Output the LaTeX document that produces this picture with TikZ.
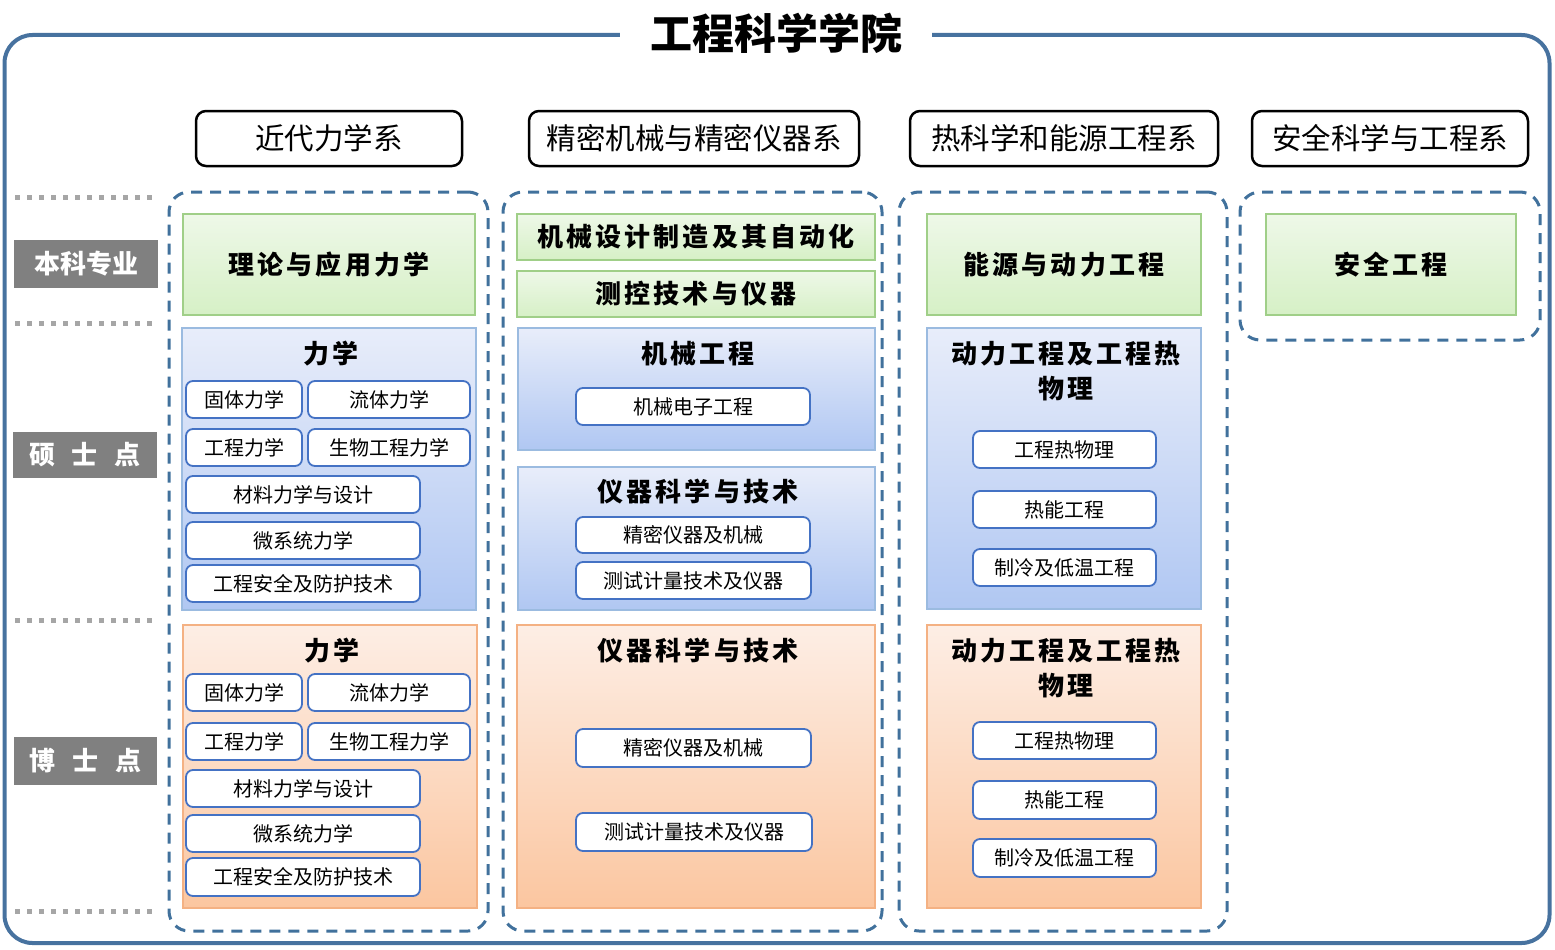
\documentclass[tikz,border=0pt]{standalone}
\usepackage{fontspec}
\setmainfont{Noto Sans CJK SC}
\newfontfamily\kai[LetterSpace=12]{Noto Sans CJK SC}
\definecolor{frameblue}{RGB}{71,114,159}
\definecolor{dashblue}{RGB}{65,113,156}
\definecolor{labgray}{RGB}{128,128,128}
\definecolor{dotgray}{RGB}{166,166,166}
\definecolor{gtop}{RGB}{238,248,232}
\definecolor{gbot}{RGB}{214,240,198}
\definecolor{gline}{RGB}{160,207,136}
\definecolor{btop}{RGB}{232,237,250}
\definecolor{bbot}{RGB}{176,199,242}
\definecolor{bline}{RGB}{155,187,224}
\definecolor{otop}{RGB}{253,238,229}
\definecolor{obot}{RGB}{251,198,160}
\definecolor{oline}{RGB}{244,177,131}
\definecolor{subline}{RGB}{68,114,196}
\newcommand\mybox[7]{\node[#1,minimum width={(#5)-(#3)},minimum height={(#6)-(#4)}] (#2) at ({((#3)+(#5))/2},{((#4)+(#6))/2}) {#7};}
\begin{document}
\begin{tikzpicture}[x=1pt,y=-1pt,
  frame/.style={draw=frameblue,line width=4pt,rounded corners=28pt},
  dept/.style={draw=black,line width=2.5pt,rounded corners=10pt,fill=white,inner sep=0pt,font=\fontsize{29.5}{32}\selectfont},
  colgrp/.style={draw=dashblue,line width=3pt,dash pattern=on 11pt off 8pt,rounded corners=20pt,inner sep=0pt},
  lab/.style={fill=labgray,text=white,inner sep=0pt,font=\bfseries\fontsize{26}{30}\selectfont},
  dotline/.style={draw=dotgray,line width=5pt,dash pattern=on 5pt off 7pt},
  ug/.style={draw=gline,line width=2.5pt,top color=gtop,bottom color=gbot,inner sep=0pt,font=\kai\bfseries\fontsize{26}{30}\selectfont},
  ms/.style={draw=bline,line width=2.5pt,top color=btop,bottom color=bbot,inner sep=0pt},
  phd/.style={draw=oline,line width=2.5pt,top color=otop,bottom color=obot,inner sep=0pt},
  ttl/.style={inner sep=0pt,align=center,font=\kai\bfseries\fontsize{26}{35}\selectfont},
  sub/.style={draw=subline,line width=1.8pt,fill=white,rounded corners=7pt,inner sep=0pt,font=\fontsize{20}{24}\selectfont}]
\useasboundingbox (0,0) rectangle (1555,950);
% outer frame and title
\draw[frame] (4.5,35) rectangle (1549.5,943);
\node[fill=white,minimum width=312,minimum height=44,inner sep=0pt,font=\bfseries\fontsize{42}{46}\selectfont] (title) at (776,33) {工程科学学院};
% departments
\mybox{dept}{d1}{196}{111}{462}{166}{近代力学系}
\mybox{dept}{d2}{529}{111}{859}{166}{精密机械与精密仪器系}
\mybox{dept}{d3}{910}{111}{1218}{166}{热科学和能源工程系}
\mybox{dept}{d4}{1252}{111}{1528}{166}{安全科学与工程系}
% dashed column groups
\mybox{colgrp}{c1}{169}{192}{488}{931}{}
\mybox{colgrp}{c2}{503}{192}{882}{931}{}
\mybox{colgrp}{c3}{899}{192}{1227}{931}{}
\mybox{colgrp}{c4}{1240}{192}{1540}{340}{}
% row labels and dotted separators
\mybox{lab}{l1}{14}{240}{158}{288}{本科专业}
\mybox{lab}{l2}{13}{432}{157}{478}{硕\hspace{17pt}士\hspace{17pt}点}
\mybox{lab}{l3}{14}{737}{157}{785}{博\hspace{17pt}士\hspace{17pt}点}
\draw[dotline] (15,197) -- (152,197);
\draw[dotline] (15,323) -- (152,323);
\draw[dotline] (15,620) -- (152,620);
\draw[dotline] (15,911) -- (152,911);
% undergraduate majors
\mybox{ug}{g1}{183}{214}{475}{315}{理论与应用力学}
\mybox{ug}{g2a}{517}{214}{875}{260}{机械设计制造及其自动化}
\mybox{ug}{g2b}{517}{271}{875}{317}{测控技术与仪器}
\mybox{ug}{g3}{927}{214}{1201}{315}{能源与动力工程}
\mybox{ug}{g4}{1266}{214}{1516}{315}{安全工程}
% master
\mybox{ms}{m1}{182}{328}{476}{610}{}
\node[ttl] (m1t) at (331,354) {力学};
\mybox{sub}{m1a}{186}{381}{302}{418}{固体力学}
\mybox{sub}{m1b}{308}{381}{470}{418}{流体力学}
\mybox{sub}{m1c}{186}{429}{302}{466}{工程力学}
\mybox{sub}{m1d}{308}{429}{470}{466}{生物工程力学}
\mybox{sub}{m1e}{186}{476}{420}{513}{材料力学与设计}
\mybox{sub}{m1f}{186}{522}{420}{559}{微系统力学}
\mybox{sub}{m1g}{186}{565}{420}{602}{工程安全及防护技术}
\mybox{ms}{m2a}{518}{328}{875}{450}{}
\node[ttl] (m2at) at (698,354) {机械工程};
\mybox{sub}{m2a1}{576}{388}{810}{425}{机械电子工程}
\mybox{ms}{m2b}{518}{467}{875}{610}{}
\node[ttl] (m2bt) at (698,492) {仪器科学与技术};
\mybox{sub}{m2b1}{576}{517}{810}{553}{精密仪器及机械}
\mybox{sub}{m2b2}{576}{562}{811}{599}{测试计量技术及仪器}
\mybox{ms}{m3}{927}{328}{1201}{609}{}
\node[ttl] (m3t) at (1066,371) {动力工程及工程热\\物理};
\mybox{sub}{m3a}{973}{431}{1156}{468}{工程热物理}
\mybox{sub}{m3b}{973}{491}{1156}{528}{热能工程}
\mybox{sub}{m3c}{973}{549}{1156}{586}{制冷及低温工程}
% doctorate
\mybox{phd}{p1}{183}{625}{477}{908}{}
\node[ttl] (p1t) at (332,651) {力学};
\mybox{sub}{p1a}{186}{674}{302}{711}{固体力学}
\mybox{sub}{p1b}{308}{674}{470}{711}{流体力学}
\mybox{sub}{p1c}{186}{723}{302}{760}{工程力学}
\mybox{sub}{p1d}{308}{723}{470}{760}{生物工程力学}
\mybox{sub}{p1e}{186}{770}{420}{807}{材料力学与设计}
\mybox{sub}{p1f}{186}{815}{420}{852}{微系统力学}
\mybox{sub}{p1g}{186}{858}{420}{896}{工程安全及防护技术}
\mybox{phd}{p2}{517}{625}{875}{908}{}
\node[ttl] (p2t) at (698,651) {仪器科学与技术};
\mybox{sub}{p2a}{576}{729}{811}{767}{精密仪器及机械}
\mybox{sub}{p2b}{576}{813}{812}{851}{测试计量技术及仪器}
\mybox{phd}{p3}{927}{625}{1201}{908}{}
\node[ttl] (p3t) at (1066,668) {动力工程及工程热\\物理};
\mybox{sub}{p3a}{973}{722}{1156}{759}{工程热物理}
\mybox{sub}{p3b}{973}{781}{1156}{819}{热能工程}
\mybox{sub}{p3c}{973}{839}{1156}{877}{制冷及低温工程}
\end{tikzpicture}
\end{document}
